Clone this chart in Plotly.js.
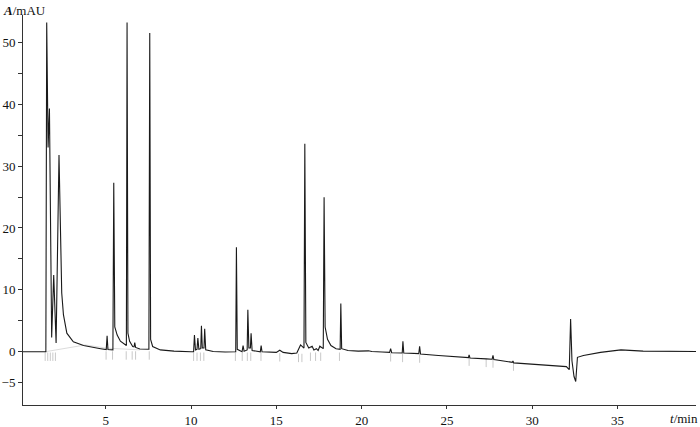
<!DOCTYPE html>
<html>
<head>
<meta charset="utf-8">
<script src="https://cdn.plot.ly/plotly-3.0.1.min.js"></script>
<style>
html,body{margin:0;padding:0;background:#fff;}
#chart{width:700px;height:427px;}
</style>
</head>
<body>
<div id="chart"></div>
<script>
// Retention time (min)
const timeMin = [
  0.15, 1.0, 1.49, 1.54, 1.62, 1.70, 1.83, 1.95, 2.09, 2.26, 2.42, 2.52, 2.72, 3.1, 3.7, 4.7,
  5.03, 5.08, 5.13, 5.42, 5.47, 5.53, 5.67, 5.86, 6.15, 6.21, 6.25, 6.30, 6.40, 6.58, 6.66, 6.70, 6.75, 7.0,
  7.53, 7.58, 7.63, 7.75, 8.2, 9.0, 10.0,
  10.15, 10.20, 10.26, 10.35, 10.40, 10.46, 10.57, 10.61, 10.66, 10.76, 10.80, 10.86, 11.1, 11.3, 12.0,
  12.62, 12.66, 12.71, 12.99, 13.05, 13.11, 13.29, 13.33, 13.39, 13.48, 13.52, 13.58, 14.06, 14.11, 14.16,
  15.0, 15.2, 15.4, 15.9, 16.2, 16.42, 16.62, 16.67, 16.73, 16.9, 17.1, 17.2, 17.35, 17.45, 17.55, 17.75,
  17.80, 17.86, 18.0, 18.2, 18.5, 18.74, 18.78, 18.83, 19.2, 19.8, 20.4, 20.6, 21.2,
  21.64, 21.7, 21.76, 22.38, 22.42, 22.47, 23.35, 23.4, 23.45, 24.5, 25.5, 26.26, 26.3, 26.35,
  27.3, 27.65, 27.7, 27.75, 28.83, 28.87, 28.92, 30.5, 31.7, 32.0, 32.17, 32.25, 32.33, 32.45,
  32.55, 32.65, 33.0, 34.0, 35.2, 36.5, 39.6
];
// Absorbance (mAU) at each time above
const absorbance = [
  0.0, 0.0, 0.0, 53.2, 33.0, 39.3, 2.3, 12.4, 1.4, 31.8, 9.5, 6.0, 3.0, 1.6, 1.0, 0.5,
  0.35, 2.6, 0.35, 0.3, 27.3, 4.0, 2.7, 1.7, 1.1, 1.0, 53.2, 3.0, 1.7, 0.85, 0.8, 1.5, 0.7, 0.45,
  0.4, 51.5, 2.0, 0.85, 0.3, 0.1, 0.0,
  0.0, 2.7, 0.3, 0.4, 2.2, 0.4, 0.5, 4.2, 0.6, 0.6, 3.7, 0.3, 0.2, 0.05, -0.05,
  0.0, 16.9, 0.4, 0.0, 1.0, 0.1, 0.3, 6.8, 0.6, 0.6, 3.0, 0.2, 0.0, 1.0, 0.0,
  -0.1, 0.25, -0.1, -0.3, -0.2, 1.1, 0.6, 33.6, 1.5, 0.6, 0.9, 0.3, 0.5, 0.2, 0.9, 0.5,
  24.95, 4.0, 2.0, 1.0, 0.5, 0.4, 7.8, 0.5, 0.2, 0.1, 0.15, 0.05, -0.05,
  -0.1, 0.5, -0.15, -0.2, 1.7, -0.2, -0.3, 0.9, -0.35, -0.6, -0.8, -0.95, -0.5, -1.0,
  -1.15, -1.2, -0.6, -1.25, -1.7, -1.5, -1.8, -2.1, -2.3, -2.4, -2.9, 5.3, -1.5, -4.0,
  -4.8, -0.9, -0.6, -0.1, 0.3, 0.1, 0.05
];
// Faint integration marks below the trace
const markTimes = [1.45, 1.6, 1.75, 1.9, 2.05, 5.02, 5.4, 6.2, 6.55, 6.75, 7.55, 10.15, 10.35, 10.55, 10.75,
  12.6, 13.0, 13.3, 13.5, 14.1, 15.2, 16.3, 16.5, 17.0, 17.3, 17.6, 18.7, 21.7, 22.4, 23.4, 26.3, 27.3, 27.7, 28.9];
const markLevels = [-0.8, -0.8, -0.8, -0.8, -0.8, -0.6, -0.6, -0.6, -0.6, -0.6, -0.6, -0.8, -0.8, -0.8, -0.8,
  -0.8, -0.8, -0.8, -0.8, -0.8, -0.9, -1.0, -1.0, -0.8, -0.8, -0.8, -0.8, -0.9, -1.0, -1.1, -1.6, -1.8, -1.9, -2.4];
// Faint reference baseline
const refTimes = [1.45, 2.3, 3.8, 5.0, 7.0];
const refValues = [0.0, 0.4, 1.1, 0.6, 0.3];

const yTickVals = [-5, 0, 5, 10, 15, 20, 25, 30, 35, 40, 45, 50];
const yTickText = ["\u22125", "0", "", "10", "", "20", "", "30", "", "40", "", "50"];
const xTickVals = [5, 10, 15, 20, 25, 30, 35];
const xTickText = ["5", "10", "15", "20", "25", "30", "35"];

const tickFont = {family: "Liberation Serif, DejaVu Serif, serif", size: 13, color: "#111"};

const traces = [
  {x: refTimes, y: refValues, type: "scatter", mode: "lines",
   line: {color: "#dcdcdc", width: 1}, hoverinfo: "skip", showlegend: false},
  {x: markTimes, y: markLevels, type: "scatter", mode: "markers",
   marker: {symbol: "line-ns-open", size: 6, color: "#c8c8c8", line: {color: "#c8c8c8", width: 1}},
   hoverinfo: "skip", showlegend: false},
  {x: timeMin, y: absorbance, type: "scatter", mode: "lines",
   line: {color: "#1a1a1a", width: 1.1}, showlegend: false}
];

const layout = {
  width: 700, height: 427,
  margin: {l: 23, r: 4, t: 15, b: 22},
  paper_bgcolor: "#fff", plot_bgcolor: "#fff",
  xaxis: {range: [0.15, 39.6], tickvals: xTickVals, ticktext: xTickText,
    showgrid: false, zeroline: false, showline: true, linecolor: "#333", linewidth: 1,
    ticks: "outside", ticklen: 3, tickcolor: "#333", tickfont: tickFont, fixedrange: true},
  yaxis: {range: [-8.6, 54.4], tickvals: yTickVals, ticktext: yTickText,
    showgrid: false, zeroline: false, showline: true, linecolor: "#333", linewidth: 1,
    ticks: "outside", ticklen: 4, tickcolor: "#333", tickfont: tickFont, fixedrange: true},
  annotations: [
    {xref: "paper", yref: "paper", x: 0, y: 1, xshift: -22, yshift: 14, xanchor: "left", yanchor: "top",
     text: "<b><i>A</i></b>/mAU", showarrow: false,
     font: {family: "Liberation Serif, DejaVu Serif, serif", size: 13, color: "#111"}},
    {xref: "paper", yref: "paper", x: 1, y: 0, xshift: 4, yshift: -4, xanchor: "right", yanchor: "top",
     text: "<i>t</i>/min", showarrow: false,
     font: {family: "Liberation Serif, DejaVu Serif, serif", size: 13, color: "#111"}}
  ]
};

Plotly.newPlot("chart", traces, layout, {displayModeBar: false, staticPlot: true});
</script>
</body>
</html>
